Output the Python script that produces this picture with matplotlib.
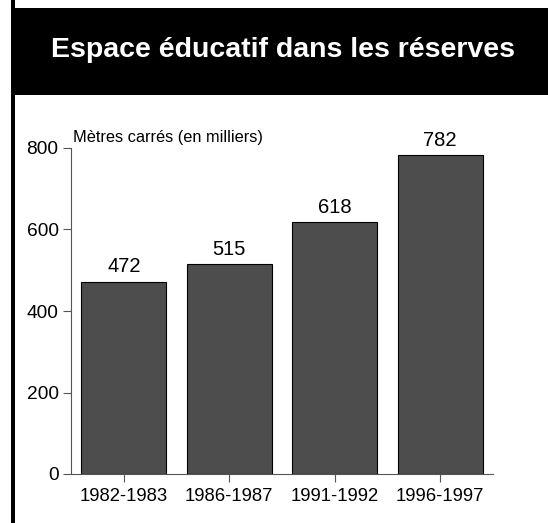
"""
   Bar chart: espace educatif dans les reserves
"""
import matplotlib.pyplot as plt
from matplotlib.patches import Rectangle

periods = ["1982-1983", "1986-1987", "1991-1992", "1996-1997"]
area = [472, 515, 618, 782]          # metres carres (en milliers)
yticks = [0, 200, 400, 600, 800]

plt.rcParams['font.family'] = ['Liberation Sans', 'DejaVu Sans']

W, H = 548, 523
fig = plt.figure(figsize=(W / 100, H / 100), dpi=100)

# black title band and left border
fig.patches.append(Rectangle((11 / W, 1 - 95 / H), 1, 87 / H, transform=fig.transFigure,
                             facecolor="black", edgecolor="none"))
fig.patches.append(Rectangle((11 / W, 0), 4 / W, 1, transform=fig.transFigure,
                             facecolor="black", edgecolor="none"))
fig.text(283 / W, 1 - 50 / H, "Espace éducatif dans les réserves", color="white",
         fontsize=20.5, fontweight="bold", ha="center", va="center")

ax = fig.add_axes([71 / W, 49 / H, 422 / W, 326 / H])
x = range(len(periods))
bars = ax.bar(x, area, width=0.81, color="#4d4d4d", edgecolor="black", linewidth=0.8)
for b, v in zip(bars, area):
    ax.annotate(str(v), (b.get_x() + b.get_width() / 2, v), xytext=(0, 4),
                textcoords="offset points", ha="center", va="bottom", fontsize=14.5)

ax.set_xlim(-0.5, 3.5)
ax.set_ylim(0, 800)
ax.set_xticks(list(x))
ax.set_xticklabels(periods)
ax.set_yticks(yticks)
ax.tick_params(labelsize=13.8, length=6, color="#555555", width=0.8, pad=3)
ax.tick_params(axis="x", labelsize=13.3, pad=4)
for s in ["top", "right"]:
    ax.spines[s].set_visible(False)
for s in ["left", "bottom"]:
    ax.spines[s].set_color("#555555")
    ax.spines[s].set_linewidth(0.8)

fig.text(73 / W, 1 - 142 / H, "Mètres carrés (en milliers)", fontsize=11.8, va="baseline")

fig.savefig("out.png", dpi=100)
